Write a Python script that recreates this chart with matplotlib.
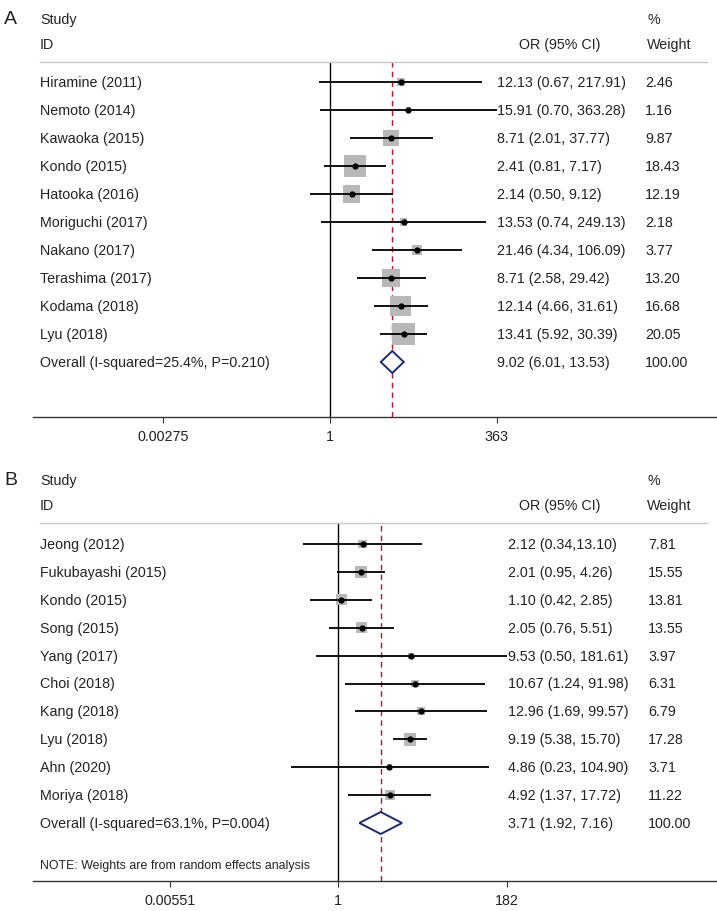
import matplotlib
matplotlib.use('Agg')
import matplotlib.pyplot as plt
import matplotlib.transforms as mtransforms
from matplotlib.lines import Line2D

plt.rcParams['font.family'] = ['Liberation Sans', 'DejaVu Sans']

# パネルA
studies_a = ['Hiramine (2011)', 'Nemoto (2014)', 'Kawaoka (2015)', 'Kondo (2015)', 'Hatooka (2016)',
             'Moriguchi (2017)', 'Nakano (2017)', 'Terashima (2017)', 'Kodama (2018)', 'Lyu (2018)']
or_a = [12.13, 15.91, 8.71, 2.41, 2.14, 13.53, 21.46, 8.71, 12.14, 13.41]
lo_a = [0.67, 0.70, 2.01, 0.81, 0.50, 0.74, 4.34, 2.58, 4.66, 5.92]
hi_a = [217.91, 363.28, 37.77, 7.17, 9.12, 249.13, 106.09, 29.42, 31.61, 30.39]
w_a = [2.46, 1.16, 9.87, 18.43, 12.19, 2.18, 3.77, 13.20, 16.68, 20.05]
ci_txt_a = ['12.13 (0.67, 217.91)', '15.91 (0.70, 363.28)', '8.71 (2.01, 37.77)', '2.41 (0.81, 7.17)',
            '2.14 (0.50, 9.12)', '13.53 (0.74, 249.13)', '21.46 (4.34, 106.09)', '8.71 (2.58, 29.42)',
            '12.14 (4.66, 31.61)', '13.41 (5.92, 30.39)']
overall_a = (9.02, 6.01, 13.53)
overall_lbl_a = 'Overall (I-squared=25.4%, P=0.210)'
overall_txt_a = '9.02 (6.01, 13.53)'
ticks_a = [0.00275, 1, 363]
ticklabels_a = ['0.00275', '1', '363']

# パネルB
studies_b = ['Jeong (2012)', 'Fukubayashi (2015)', 'Kondo (2015)', 'Song (2015)', 'Yang (2017)',
             'Choi (2018)', 'Kang (2018)', 'Lyu (2018)', 'Ahn (2020)', 'Moriya (2018)']
or_b = [2.12, 2.01, 1.10, 2.05, 9.53, 10.67, 12.96, 9.19, 4.86, 4.92]
lo_b = [0.34, 0.95, 0.42, 0.76, 0.50, 1.24, 1.69, 5.38, 0.23, 1.37]
hi_b = [13.10, 4.26, 2.85, 5.51, 181.61, 91.98, 99.57, 15.70, 104.90, 17.72]
w_b = [7.81, 15.55, 13.81, 13.55, 3.97, 6.31, 6.79, 17.28, 3.71, 11.22]
ci_txt_b = ['2.12 (0.34,13.10)', '2.01 (0.95, 4.26)', '1.10 (0.42, 2.85)', '2.05 (0.76, 5.51)',
            '9.53 (0.50, 181.61)', '10.67 (1.24, 91.98)', '12.96 (1.69, 99.57)', '9.19 (5.38, 15.70)',
            '4.86 (0.23, 104.90)', '4.92 (1.37, 17.72)']
overall_b = (3.71, 1.92, 7.16)
overall_lbl_b = 'Overall (I-squared=63.1%, P=0.004)'
overall_txt_b = '3.71 (1.92, 7.16)'
ticks_b = [0.00551, 1, 182]
ticklabels_b = ['0.00551', '1', '182']

W, H = 717, 912
fig = plt.figure(figsize=(W / 100, H / 100), dpi=100)
TXT = '#222222'
FS = 10.3


def fx(x):
    return x / W


def fy(y):
    return 1 - y / H


def panel(letter, top, bottom, row0, step, one_x, dec_px, studies, est, lo, hi, w, ci_txt,
          overall, overall_lbl, overall_txt, ticks, ticklabels, box_k, ci_x, w_x, note=None):
    ax = fig.add_axes([fx(33), fy(bottom), fx(717) - fx(33), fy(top) - fy(bottom)])
    ax.set_xscale('log')
    ax.set_xlim(10 ** ((33 - one_x) / dec_px), 10 ** ((717 - one_x) / dec_px))
    ax.set_ylim((bottom - row0) / step, (top - row0) / step)
    n = len(studies)
    rows = list(range(n))

    ax.axvline(1, color='black', lw=1, zorder=1)
    ax.axvline(overall[0], color='#b0182a', lw=1, ls=(0, (4, 3)), zorder=1)

    ax.hlines(rows, lo, hi, color='black', lw=1.3, zorder=3)
    ax.scatter(est, rows, s=[box_k * v for v in w], marker='s', color='#b8b8b8',
               linewidths=0, zorder=2)
    ax.scatter(est, rows, s=12, marker='o', color='black', zorder=4)

    h = 11 / step
    ax.fill([overall[1], overall[0], overall[2], overall[0]], [n, n - h, n, n + h],
            facecolor='white', edgecolor='#1f2a6b', lw=1.4, zorder=3)

    for s in ['top', 'left', 'right']:
        ax.spines[s].set_visible(False)
    ax.spines['bottom'].set_color('#333333')
    ax.spines['bottom'].set_linewidth(1)
    ax.set_yticks([])
    ax.set_xticks(ticks)
    ax.set_xticklabels(ticklabels)
    ax.minorticks_off()
    ax.tick_params(axis='x', direction='out', length=4, width=0.8, color='#333333',
                   pad=5, labelsize=FS, labelcolor=TXT)
    ax.patch.set_alpha(0)

    tr = mtransforms.blended_transform_factory(fig.transFigure, ax.transData)
    for i in rows:
        ax.text(fx(40), i, studies[i], transform=tr, ha='left', va='center', fontsize=FS, color=TXT)
        ax.text(fx(ci_x), i, ci_txt[i], transform=tr, ha='left', va='center', fontsize=FS, color=TXT)
        ax.text(fx(w_x), i, f'{w[i]:.2f}', transform=tr, ha='left', va='center', fontsize=FS, color=TXT)
    ax.text(fx(40), n, overall_lbl, transform=tr, ha='left', va='center', fontsize=FS, color=TXT)
    ax.text(fx(ci_x), n, overall_txt, transform=tr, ha='left', va='center', fontsize=FS, color=TXT)
    ax.text(fx(w_x), n, '100.00', transform=tr, ha='left', va='center', fontsize=FS, color=TXT)
    if note:
        fig.text(fx(40), fy(note[1]), note[0], ha='left', va='center', fontsize=8.9, color=TXT)

    # 見出し
    fig.text(fx(4), fy(top - 43), letter, ha='left', va='center', fontsize=14, color=TXT)
    fig.text(fx(40), fy(top - 43), 'Study', ha='left', va='center', fontsize=FS, color=TXT)
    fig.text(fx(40), fy(top - 18), 'ID', ha='left', va='center', fontsize=FS, color=TXT)
    fig.text(fx(519), fy(top - 18), 'OR (95% CI)', ha='left', va='center', fontsize=FS, color=TXT)
    fig.text(fx(647), fy(top - 43), '%', ha='left', va='center', fontsize=FS, color=TXT)
    fig.text(fx(647), fy(top - 18), 'Weight', ha='left', va='center', fontsize=FS, color=TXT)
    fig.add_artist(Line2D([fx(40), fx(707)], [fy(top), fy(top)], color='#c8c8c8', lw=1))
    return ax


panel('A', 63, 418, 83, 28, 330, 65.2, studies_a, or_a, lo_a, hi_a, w_a, ci_txt_a,
      overall_a, overall_lbl_a, overall_txt_a, ticks_a, ticklabels_a, 13.3, 497, 645)
panel('B', 524, 882, 545, 27.9, 338.3, 74.5, studies_b, or_b, lo_b, hi_b, w_b, ci_txt_b,
      overall_b, overall_lbl_b, overall_txt_b, ticks_b, ticklabels_b, 4.8, 508, 648,
      note=('NOTE: Weights are from random effects analysis', 866))

fig.savefig('out.png', dpi=100)
